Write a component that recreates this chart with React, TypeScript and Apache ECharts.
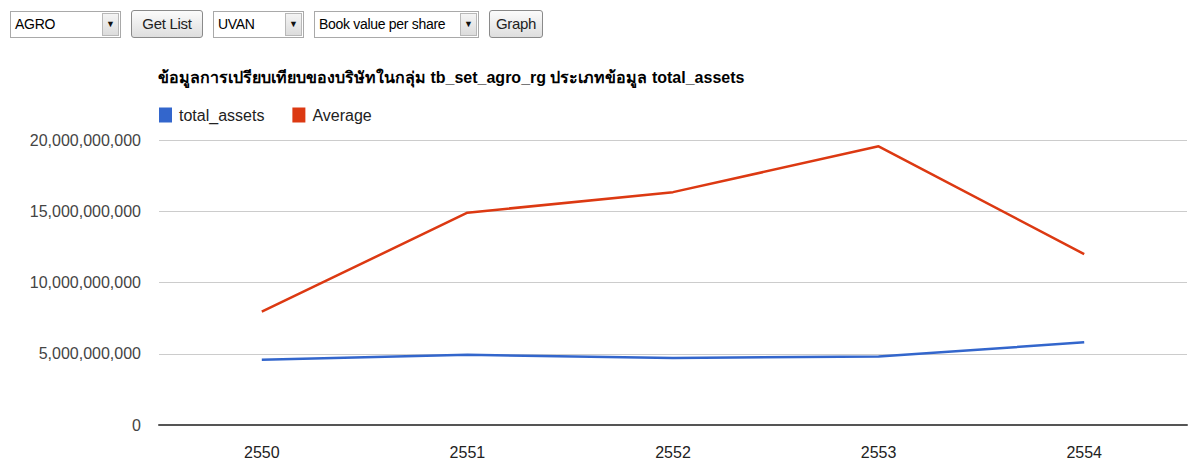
import React, { useEffect, useRef } from "react";
import * as echarts from "echarts";

const years = ["2550", "2551", "2552", "2553", "2554"];
const totalAssets = [4.58e9, 4.93e9, 4.7e9, 4.81e9, 5.8e9];
const average = [7.95e9, 14.9e9, 16.34e9, 19.56e9, 11.99e9];
const titleText = "ข้อมูลการเปรียบเทียบของบริษัทในกลุ่ม tb_set_agro_rg ประเภทข้อมูล total_assets";

const FONT = "Arial, 'Liberation Sans', 'Noto Sans', sans-serif";

function Select({ left, width, label }: { left: number; width: number; label: string }) {
  return (
    <div
      style={{
        position: "absolute",
        left,
        top: 11,
        width,
        height: 27,
        boxSizing: "border-box",
        border: "1px solid #a9a9a9",
        background: "#fff",
        fontFamily: FONT,
        fontSize: 14,
        letterSpacing: -0.3,
        color: "#000",
      }}
    >
      <div style={{ position: "absolute", left: 4, top: 4, whiteSpace: "nowrap" }}>{label}</div>
      <div
        style={{
          position: "absolute",
          right: 1,
          top: 1,
          width: 17,
          height: 23,
          boxSizing: "border-box",
          border: "1px solid #b8b8b8",
          background: "linear-gradient(#f4f4f4, #dcdcdc)",
          fontSize: 9,
          textAlign: "center",
          lineHeight: "21px",
          color: "#111",
          letterSpacing: 0,
        }}
      >
        ▼
      </div>
    </div>
  );
}

function Button({ left, width, label }: { left: number; width: number; label: string }) {
  return (
    <div
      style={{
        position: "absolute",
        left,
        top: 10,
        width,
        height: 28,
        boxSizing: "border-box",
        border: "1px solid #8a8a8a",
        borderRadius: 3,
        background: "linear-gradient(#fbfbfb, #dedede)",
        fontFamily: FONT,
        fontSize: 15,
        letterSpacing: -0.3,
        color: "#222",
        textAlign: "center",
        lineHeight: "26px",
      }}
    >
      {label}
    </div>
  );
}

export default function App() {
  const ref = useRef<HTMLDivElement>(null);
  useEffect(() => {
    if (!ref.current) return;
    const chart = echarts.init(ref.current, undefined, { renderer: "svg" });
    chart.setOption({
      animation: false,
      backgroundColor: "#fff",
      textStyle: { fontFamily: FONT },
      title: {
        text: titleText,
        left: 153,
        top: 64,
        textStyle: { fontSize: 16, fontWeight: "bold", color: "#000", fontFamily: FONT },
      },
      legend: {
        left: 154,
        top: 102,
        icon: "rect",
        itemWidth: 13,
        itemHeight: 15,
        itemGap: 28,
        itemStyle: {},
        textStyle: { fontSize: 16, color: "#222", fontFamily: FONT, padding: [0, 0, 0, 2] },
        data: ["total_assets", "Average"],
      },
      grid: { left: 159, right: 5, top: 140, bottom: 35, containLabel: false },
      xAxis: {
        type: "category",
        data: years,
        boundaryGap: true,
        axisTick: { show: false },
        axisLine: { show: true, onZero: true, lineStyle: { color: "#555", width: 2 } },
        axisLabel: { fontSize: 16, color: "#222", margin: 19, fontFamily: FONT },
        splitLine: { show: false },
      },
      yAxis: {
        type: "value",
        min: 0,
        max: 20e9,
        interval: 5e9,
        axisLine: { show: false },
        axisTick: { show: false },
        axisLabel: {
          fontSize: 16,
          color: "#444",
          margin: 18,
          fontFamily: FONT,
          formatter: (v: number) => v.toLocaleString("en-US"),
        },
        splitLine: { show: true, lineStyle: { color: "#cccccc", width: 1 } },
      },
      series: [
        {
          name: "total_assets",
          type: "line",
          data: totalAssets,
          symbol: "none",
          itemStyle: { color: "#3366cc" },
          lineStyle: { color: "#3366cc", width: 2.5 },
        },
        {
          name: "Average",
          type: "line",
          data: average,
          symbol: "none",
          itemStyle: { color: "#dc3912" },
          lineStyle: { color: "#dc3912", width: 2.5 },
        },
      ],
    });
    return () => chart.dispose();
  }, []);

  return (
    <div style={{ position: "absolute", left: 0, top: 0, width: 1192, height: 460, background: "#fff" }}>
      <div ref={ref} style={{ position: "absolute", left: 0, top: 0, width: 1192, height: 460 }} />
      <Select left={10} width={111} label="AGRO" />
      <Button left={131} width={72} label="Get List" />
      <Select left={213} width={91} label="UVAN" />
      <Select left={314} width={165} label="Book value per share" />
      <Button left={489} width={54} label="Graph" />
    </div>
  );
}
